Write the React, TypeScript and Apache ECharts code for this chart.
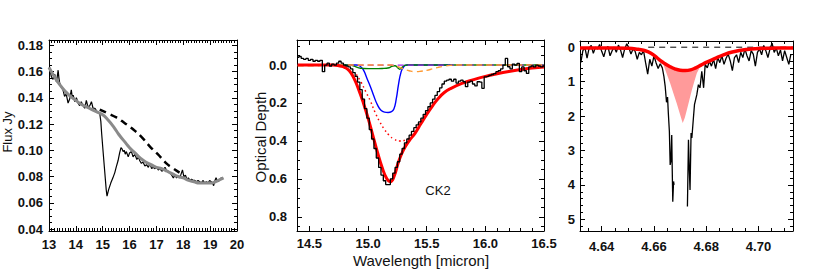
import React, { useEffect, useRef } from 'react';
import * as echarts from 'echarts';

// ---------- Left panel: flux spectrum ----------
const fluxWave = [13.00,13.05,13.09,13.15,13.21,13.28,13.34,13.37,13.40,13.46,13.52,13.58,13.64,13.71,13.77,13.83,13.87,13.90,13.96,14.02,14.08,14.14,14.20,14.27,14.33,14.39,14.45,14.52,14.58,14.64,14.71,14.77,14.83,14.89,14.93,14.96,15.01,15.07,15.13,15.16,15.22,15.30,15.38,15.45,15.50,15.57,15.63,15.68,15.72,15.76,15.80,15.84,15.88,15.95,16.00,16.07,16.13,16.20,16.27,16.33,16.38,16.44,16.50,16.57,16.63,16.70,16.76,16.82,16.88,16.95,17.01,17.07,17.13,17.20,17.26,17.32,17.37,17.44,17.50,17.57,17.63,17.69,17.75,17.81,17.87,17.92,17.97,18.02,18.08,18.14,18.19,18.25,18.31,18.37,18.43,18.49,18.55,18.61,18.67,18.73,18.80,18.86,18.92,18.98,19.04,19.09,19.13,19.18,19.22,19.28,19.34,19.41,19.47];
const fluxVal = [0.163,0.160,0.156,0.154,0.158,0.152,0.161,0.155,0.151,0.148,0.146,0.141,0.143,0.136,0.139,0.146,0.140,0.142,0.137,0.140,0.136,0.134,0.137,0.134,0.132,0.138,0.133,0.134,0.137,0.132,0.132,0.130,0.129,0.128,0.122,0.113,0.100,0.085,0.070,0.065,0.070,0.075,0.079,0.083,0.087,0.092,0.098,0.102,0.101,0.099,0.100,0.097,0.099,0.095,0.098,0.099,0.095,0.097,0.093,0.095,0.092,0.090,0.091,0.088,0.089,0.087,0.090,0.086,0.087,0.086,0.087,0.085,0.086,0.084,0.085,0.087,0.085,0.084,0.083,0.081,0.079,0.081,0.079,0.080,0.079,0.082,0.085,0.080,0.081,0.078,0.079,0.077,0.078,0.077,0.077,0.076,0.077,0.076,0.075,0.077,0.075,0.076,0.075,0.077,0.076,0.075,0.073,0.077,0.079,0.076,0.077,0.079,0.078];
const contWave = [13.0,13.2,13.4,13.6,13.8,14.0,14.2,14.4,14.6,14.8,15.0,15.2,15.4,15.6,15.8,16.0,16.2,16.4,16.6,16.8,17.0,17.2,17.4,17.6,17.8,18.0,18.2,18.4,18.6,18.8,19.0,19.2,19.4,19.5];
const contVal = [0.163,0.156,0.150,0.145,0.141,0.138,0.135,0.133,0.131,0.129,0.127,0.123,0.118,0.112,0.107,0.102,0.098,0.094,0.091,0.089,0.087,0.086,0.084,0.082,0.080,0.079,0.077,0.076,0.075,0.075,0.075,0.076,0.078,0.079];
const dashWave = [14.89,15.20,15.51,15.80,16.13,16.45,16.75,17.05,17.37,17.60,17.86];
const dashVal = [0.131,0.128,0.125,0.121,0.116,0.110,0.103,0.097,0.090,0.0865,0.083];

// ---------- Middle panel: optical depth fit ----------
const tauStart = 14.40;
const tauStep = 0.02;
const tauObs = [-0.04,-0.045,-0.035,-0.03,-0.035,-0.025,-0.03,-0.02,-0.025,-0.02,-0.025,0.035,0.0,-0.01,0.005,-0.005,0.0,-0.01,-0.02,-0.01,0.0,0.005,0.01,0.02,0.04,0.06,0.09,0.13,0.18,0.23,0.28,0.34,0.39,0.44,0.49,0.54,0.58,0.61,0.63,0.63,0.60,0.57,0.54,0.51,0.47,0.44,0.41,0.39,0.37,0.35,0.33,0.315,0.30,0.28,0.26,0.24,0.22,0.20,0.18,0.16,0.14,0.12,0.10,0.085,0.08,0.075,0.085,0.075,0.095,0.085,0.08,0.088,0.114,0.09,0.085,0.1,0.11,0.088,0.09,0.123,0.062,0.06,0.055,0.05,0.045,0.035,0.03,0.02,0.0,-0.035,0.009,0.02,-0.005,0.0,-0.009,0.035,0.01,0.03,0.044,0.01,0.005,0.01,0.0,0.005,0.01,0.005];
const fitWave = [14.40,14.50,14.60,14.70,14.76,14.80,14.84,14.88,14.92,14.96,15.00,15.04,15.08,15.12,15.16,15.19,15.22,15.26,15.30,15.35,15.40,15.45,15.50,15.55,15.60,15.65,15.70,15.80,15.90,16.00,16.10,16.20,16.30,16.40,16.50];
const fitVal = [0.0,0.0,0.0,0.0,0.005,0.012,0.03,0.07,0.13,0.20,0.28,0.37,0.46,0.54,0.60,0.615,0.59,0.51,0.45,0.40,0.36,0.31,0.26,0.215,0.175,0.145,0.125,0.097,0.077,0.06,0.046,0.034,0.024,0.016,0.011];
const dotWave = [14.90,14.94,14.98,15.02,15.06,15.10,15.14,15.18,15.22,15.27,15.32,15.36,15.40,15.44,15.48,15.52];
const dotVal = [0.05,0.09,0.14,0.19,0.25,0.30,0.34,0.37,0.39,0.40,0.395,0.375,0.345,0.30,0.27,0.235];
const blueWave = [14.80,14.90,14.93,14.96,14.99,15.02,15.05,15.08,15.11,15.14,15.17,15.20,15.22,15.24,15.26,15.28,15.30,15.33,15.72];
const blueVal = [0,0,0.005,0.026,0.07,0.114,0.165,0.21,0.238,0.248,0.25,0.246,0.232,0.18,0.10,0.04,0.013,0.0,0.0];
const greenWave = [14.40,14.85,14.88,14.92,14.96,15.05,15.12,15.18,15.21,15.23,15.25,15.27,15.29,15.31,15.34,16.50];
const greenVal = [0,0,0.006,0.015,0.018,0.019,0.018,0.014,0.005,0.004,0.012,0.022,0.012,0.002,0,0];
const orangeWave = [14.40,14.55,14.65,15.20,15.22,15.26,15.30,15.35,15.40,15.45,15.50,15.55,15.60,15.65,15.70,15.75,16.50];
const orangeVal = [0.004,0.004,0,0,0.003,0.01,0.02,0.03,0.035,0.033,0.028,0.02,0.012,0.006,0.002,0,0];
const purpleWave = [14.40,16.50];
const purpleVal = [0,0];

// ---------- Right panel: CO band ----------
const coLeftStart = 4.6320;
const coStep = 0.0008;
const coLeftWing = [0.45,0.10,0.02,0.32,0.02,-0.05,0.18,0.0,0.05,-0.08,0.12,0.28,0.05,-0.02,0.25,0.10,0.0,0.15,-0.06,0.08,0.30,0.05,-0.10,0.02,0.20,0.05,0.12,0.35,0.15,0.22,0.10,0.45,0.78,0.35,0.55,0.25,0.45,0.62,0.48];
const coCoreLeftWave = [4.6632,4.6638,4.6643,4.6648,4.6652,4.6655,4.6659,4.6662,4.6665,4.6668,4.6670,4.6672,4.6675,4.6677];
const coCoreLeftVal = [0.60,0.85,1.14,1.60,1.45,1.92,2.45,3.42,3.30,2.55,3.60,4.49,3.90,4.00];
const coCoreRightWave = [4.6728,4.6732,4.6735,4.6738,4.6742,4.6745,4.6751,4.6755,4.6764,4.6770,4.6776,4.6783,4.6790,4.6796];
const coCoreRightVal = [4.63,2.69,3.50,4.15,2.49,2.64,2.05,1.67,1.38,1.09,1.18,0.70,1.18,0.50];
const coRightStart = 4.6804;
const coRightWing = [0.60,0.41,0.55,0.35,0.62,0.30,0.45,0.25,0.50,0.32,0.20,0.40,0.68,0.30,0.22,0.45,0.15,0.30,0.05,0.25,0.40,0.10,0.20,0.55,0.15,0.05,0.22,-0.05,0.10,0.30,0.05,-0.12,0.15,0.02,0.25,0.08,0.40,0.10,0.30,0.50,0.20];
const coFitWave = [4.6317,4.640,4.645,4.650,4.653,4.656,4.659,4.662,4.664,4.666,4.668,4.670,4.672,4.674,4.676,4.678,4.680,4.683,4.6866,4.690,4.6956,4.700,4.705,4.710,4.7132];
const coFitVal = [0.02,0.02,0.02,0.03,0.05,0.09,0.18,0.36,0.47,0.56,0.63,0.67,0.68,0.66,0.60,0.52,0.44,0.34,0.22,0.14,0.065,0.04,0.03,0.02,0.02];
const coDeepWave = [4.6636,4.6650,4.6662,4.6675,4.6687,4.6697,4.6706,4.6710,4.6718,4.6726,4.6735,4.6745,4.6755,4.6764,4.6777];
const coDeepVal = [0.50,0.80,1.05,1.35,1.63,1.88,2.11,2.20,2.05,1.82,1.55,1.24,0.98,0.76,0.56];
const zeroWave = [4.6578,4.7132];
const zeroVal = [0,0];

const FONT = 'Liberation Sans, Arial, Helvetica, sans-serif';

function pairs(xs: number[], ys: number[]) {
  return xs.map((x, i) => [x, ys[i]]);
}
function gridPairs(start: number, step: number, ys: number[]) {
  return ys.map((y, i) => [+(start + i * step).toFixed(5), y]);
}
function tickList(start: number, end: number, step: number) {
  const out: number[] = [];
  for (let i = 0; ; i++) {
    const v = +(start + i * step).toFixed(6);
    if (v > end + 1e-9) break;
    out.push(v);
  }
  return out;
}

type AxisSpec = {
  min: number; max: number; majors: number[]; minors: number[];
  fmt: (v: number) => string; margin: number; inverse?: boolean;
};

function makeAxes(dim: 'x' | 'y', gridIndex: number, s: AxisSpec) {
  const positions = dim === 'x' ? ['bottom', 'top'] : ['left', 'right'];
  const out: any[] = [];
  positions.forEach((pos, pi) => {
    [true, false].forEach((major) => {
      out.push({
        gridIndex,
        type: 'value',
        position: pos,
        min: s.min,
        max: s.max,
        inverse: !!s.inverse,
        axisLine: { show: major, onZero: false, lineStyle: { color: '#000', width: 1 } },
        axisTick: {
          show: true, inside: true, length: major ? 5 : 3,
          customValues: major ? s.majors : s.minors,
          lineStyle: { color: '#000', width: 1 },
        },
        axisLabel: major && pi === 0
          ? { show: true, customValues: s.majors, formatter: (v: number) => s.fmt(v), margin: s.margin,
              fontSize: 13, fontWeight: 'bold', color: '#111', fontFamily: FONT }
          : { show: false },
        splitLine: { show: false },
        minorTick: { show: false },
      });
    });
  });
  return out;
}

function line(g: number, data: any[], color: string, width: number, type: any = 'solid', extra: any = {}) {
  return {
    type: 'line', xAxisIndex: g * 4, yAxisIndex: g * 4, data, showSymbol: false, symbol: 'none',
    silent: true, lineStyle: { color, width, type }, ...extra,
  };
}

export default function App() {
  const ref = useRef<HTMLDivElement>(null);
  useEffect(() => {
    if (!ref.current) return;
    const chart = echarts.init(ref.current, null, { renderer: 'svg' });

    const xAxes = [
      ...makeAxes('x', 0, { min: 13, max: 20, majors: tickList(13, 20, 1), minors: tickList(13, 20, 0.1), fmt: (v) => String(Math.round(v)), margin: 7 }),
      ...makeAxes('x', 1, { min: 14.394, max: 16.5, majors: tickList(14.5, 16.5, 0.5), minors: tickList(14.4, 16.5, 0.1), fmt: (v) => v.toFixed(1), margin: 6 }),
      ...makeAxes('x', 2, { min: 4.6317, max: 4.7132, majors: tickList(4.64, 4.70, 0.02), minors: tickList(4.635, 4.71, 0.005), fmt: (v) => v.toFixed(2), margin: 9 }),
    ];
    const yAxes = [
      ...makeAxes('y', 0, { min: 0.0385, max: 0.184, majors: tickList(0.04, 0.18, 0.02), minors: tickList(0.04, 0.18, 0.005), fmt: (v) => v.toFixed(2), margin: 6 }),
      ...makeAxes('y', 1, { min: -0.132, max: 0.875, inverse: true, majors: tickList(0, 0.8, 0.2), minors: tickList(-0.1, 0.85, 0.05), fmt: (v) => v.toFixed(1), margin: 10 }),
      ...makeAxes('y', 2, { min: -0.18, max: 5.34, inverse: true, majors: tickList(0, 5, 1), minors: tickList(0, 5.2, 0.2), fmt: (v) => String(Math.round(v)), margin: 5 }),
    ];

    // pink polygon: deep curve then fit curve back
    const lo = coDeepWave[0];
    const hi = coDeepWave[coDeepWave.length - 1];
    const fitInside = pairs(coFitWave, coFitVal).filter((p) => p[0] > lo && p[0] < hi).reverse();
    const pinkPoly = [...pairs(coDeepWave, coDeepVal), ...fitInside];

    const tauData = gridPairs(tauStart, tauStep, tauObs);
    const coLeft = [...gridPairs(coLeftStart, coStep, coLeftWing), ...pairs(coCoreLeftWave, coCoreLeftVal)];
    const coRight = [...pairs(coCoreRightWave, coCoreRightVal), ...gridPairs(coRightStart, coStep, coRightWing)];

    const option: any = {
      animation: false,
      backgroundColor: '#fff',
      grid: [
        { left: 49, top: 40, width: 188, height: 191 },
        { left: 297, top: 40, width: 247, height: 191 },
        { left: 580, top: 41, width: 213, height: 190 },
      ],
      xAxis: xAxes,
      yAxis: yAxes,
      series: [
        // left
        line(0, pairs(fluxWave, fluxVal), '#000', 1.2),
        line(0, pairs(contWave, contVal), '#8a8a8a', 3, 'solid', { smooth: true }),
        line(0, pairs(dashWave, dashVal), '#000', 2.5, [7, 5], { smooth: true }),
        // middle
        line(1, pairs(blueWave, blueVal), '#0000ff', 1.4, 'solid', { smooth: true }),
        line(1, pairs(greenWave, greenVal), '#008000', 1.4, 'solid', { smooth: true }),
        line(1, pairs(purpleWave, purpleVal), '#a020f0', 1.2, [6, 4]),
        line(1, pairs(orangeWave, orangeVal), '#ff9a33', 1.4, [6, 4], { smooth: true }),
        line(1, pairs(dotWave, dotVal), '#ff0000', 1.5, [1.5, 3], { smooth: true }),
        line(1, pairs(fitWave, fitVal), '#ff0000', 3, 'solid', { smooth: true }),
        line(1, tauData, '#000', 1.3, 'solid', { step: 'middle' }),
        // right
        {
          type: 'custom', xAxisIndex: 8, yAxisIndex: 8, silent: true, clip: true,
          data: [[4.67, 1]],
          renderItem: (_p: any, api: any) => ({
            type: 'polygon',
            shape: { points: pinkPoly.map((pt) => api.coord(pt)) },
            style: { fill: '#ff9a9a', stroke: 'none' },
          }),
        },
        line(2, pairs(zeroWave, zeroVal), '#000', 1, [6, 5]),
        line(2, coLeft, '#000', 1.3),
        line(2, coRight, '#000', 1.3),
        line(2, pairs(coFitWave, coFitVal), '#ff0000', 3.5, 'solid', { smooth: true }),
      ],
      graphic: [
        { type: 'text', x: 7, y: 132, rotation: Math.PI / 2,
          style: { text: 'Flux Jy', fill: '#111', font: `13px ${FONT}`, align: 'center', verticalAlign: 'middle' } },
        { type: 'text', x: 260, y: 137, rotation: Math.PI / 2,
          style: { text: 'Optical Depth', fill: '#111', font: `15px ${FONT}`, align: 'center', verticalAlign: 'middle' } },
        { type: 'text', x: 421, y: 260,
          style: { text: 'Wavelength [micron]', fill: '#111', font: `15px ${FONT}`, align: 'center', verticalAlign: 'middle' } },
        { type: 'text', x: 438, y: 190,
          style: { text: 'CK2', fill: '#111', font: `13px ${FONT}`, align: 'center', verticalAlign: 'middle' } },
      ],
    };
    chart.setOption(option);
    return () => chart.dispose();
  }, []);
  return <div ref={ref} style={{ position: 'fixed', left: 0, top: 0, width: 817, height: 272, background: '#fff' }} />;
}
